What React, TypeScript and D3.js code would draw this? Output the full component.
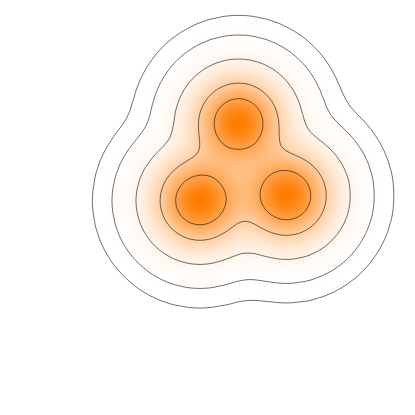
import React, { useEffect, useRef } from 'react';
import * as d3 from 'd3';

// blob centres (svg px)
const centerX = [230.5, 191.7, 278.7];
const centerY = [114.7, 192.7, 187.7];
const sigma = [25, 25, 25];
// contour levels, as a share of one blob's peak
const levels = [0.63, 0.287, 0.0396, 0.0022, 0.000105];

const W = 400, H = 400, cell = 4;

const App = () => {
  const svgRef = useRef<SVGSVGElement>(null);

  useEffect(() => {
    const svg = d3.select(svgRef.current);
    svg.selectAll('*').remove();

    const n = W / cell, m = H / cell;
    const values = new Float64Array(n * m);
    for (let j = 0; j < m; j++) {
      for (let i = 0; i < n; i++) {
        const px = (i + 0.5) * cell, py = (j + 0.5) * cell;
        let v = 0;
        centerX.forEach((cx, k) => {
          const dx = px - cx, dy = py - centerY[k];
          v += Math.exp(-(dx * dx + dy * dy) / (2 * sigma[k] * sigma[k]));
        });
        values[i + j * n] = v;
      }
    }

    const color = d3.scalePow<string>()
      .exponent(0.8)
      .domain([0, d3.max(values) as number])
      .range(['#ffffff', '#ff7c00'])
      .clamp(true);

    // raster behind the lines
    const canvas = document.createElement('canvas');
    canvas.width = n; canvas.height = m;
    const ctx = canvas.getContext('2d')!;
    const img = ctx.createImageData(n, m);
    for (let k = 0; k < n * m; k++) {
      const c = d3.rgb(color(values[k]));
      img.data[4 * k] = c.r;
      img.data[4 * k + 1] = c.g;
      img.data[4 * k + 2] = c.b;
      img.data[4 * k + 3] = 255;
    }
    ctx.putImageData(img, 0, 0);
    svg.append('image')
      .attr('width', W)
      .attr('height', H)
      .attr('preserveAspectRatio', 'none')
      .attr('href', canvas.toDataURL());

    // contour lines
    const contours = d3.contours().size([n, m]).thresholds(levels)(Array.from(values));
    const path = d3.geoPath(d3.geoIdentity().scale(cell));
    svg.append('g')
      .attr('fill', 'none')
      .attr('stroke', '#111')
      .attr('stroke-width', 0.6)
      .selectAll('path')
      .data(contours)
      .join('path')
      .attr('d', d => path(d as any));
  }, []);

  return <svg ref={svgRef} width={W} height={H} style={{ display: 'block' }}></svg>;
};

export default App;
